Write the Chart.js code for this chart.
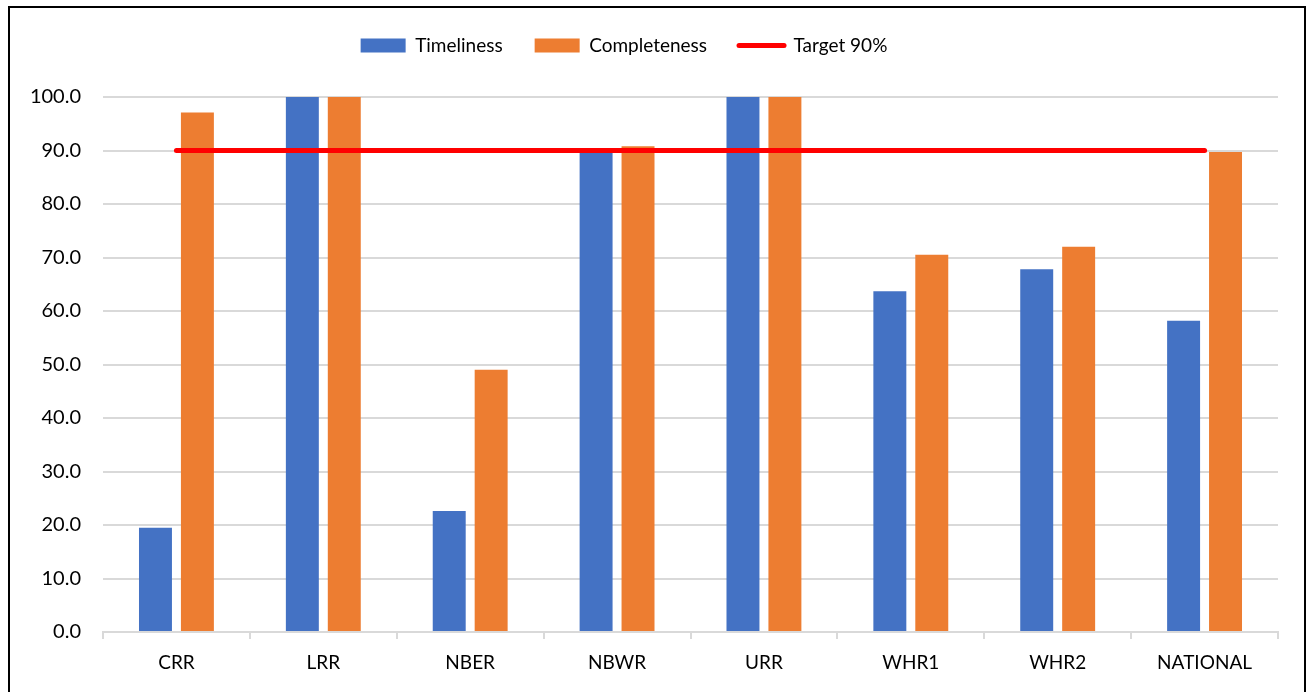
<!DOCTYPE html>
<html>
<head>
<meta charset="utf-8">
<script src="https://cdn.jsdelivr.net/npm/chart.js@4"></script>
<style>
  html, body { margin: 0; padding: 0; background: #fff; overflow: hidden; }
  #frame { position: absolute; left: 8px; top: 6px; width: 1294px; height: 700px; border: 2px solid #000; }
  #wrap { position: absolute; left: 0; top: 0; width: 1307px; height: 692px; }
</style>
</head>
<body>
<div id="frame"></div>
<div id="wrap"><canvas id="chart" width="1307" height="692"></canvas></div>
<script>
const categories = ['CRR', 'LRR', 'NBER', 'NBWR', 'URR', 'WHR1', 'WHR2', 'NATIONAL'];
const timeliness = [19.5, 100, 22.6, 89.8, 100, 63.7, 67.8, 58.2];
const completeness = [97.1, 100, 49.0, 90.8, 100, 70.5, 72.0, 89.7];
const target = [90, 90, 90, 90, 90, 90, 90, 90];

const FONT = 'Lato, "Open Sans", sans-serif';

// legend needs more room under it than chart.js gives, and sits a bit left of centre
const legendSpace = {
  id: 'legendSpace',
  beforeUpdate(chart) {
    const lg = chart.legend;
    if (lg && !lg._patched) {
      const fit = lg.fit;
      lg.fit = function () {
        fit.call(this);
        this.height = 93;
      };
      lg._patched = true;
    }
  },
  afterLayout(chart) {
    const lg = chart.legend;
    if (lg) {
      lg.left -= 15;
      lg.right -= 15;
    }
  }
};

const ctx = document.getElementById('chart').getContext('2d');
new Chart(ctx, {
  type: 'bar',
  data: {
    labels: categories,
    datasets: [
      {
        label: 'Timeliness',
        data: timeliness,
        backgroundColor: '#4472C4',
        borderWidth: 0,
        order: 2
      },
      {
        label: 'Completeness',
        data: completeness,
        backgroundColor: '#ED7D31',
        borderWidth: 0,
        order: 2
      },
      {
        type: 'line',
        label: 'Target 90%',
        data: target,
        borderColor: '#FF0000',
        backgroundColor: '#FF0000',
        borderWidth: 5,
        borderCapStyle: 'round',
        pointRadius: 0,
        order: 1
      }
    ]
  },
  options: {
    responsive: false,
    animation: false,
    layout: { padding: { left: 0, right: 29, top: 4, bottom: 0 } },
    datasets: {
      bar: { categoryPercentage: 0.571, barPercentage: 0.786 }
    },
    plugins: {
      tooltip: { enabled: false },
      legend: {
        position: 'top',
        labels: {
          color: '#000',
          font: { family: FONT, size: 19 },
          usePointStyle: true,
          pointStyleWidth: 45,
          boxHeight: 14,
          padding: 32,
          sort: (a, b) => a.datasetIndex - b.datasetIndex,
          generateLabels: (chart) => {
            const items = Chart.defaults.plugins.legend.labels.generateLabels(chart);
            items.forEach((it) => {
              if (it.datasetIndex === 2) {
                it.pointStyle = 'line';
                it.lineWidth = 5;
                it.lineCap = 'round';
                it.strokeStyle = '#FF0000';
              } else {
                it.pointStyle = 'rect';
                it.lineWidth = 0;
              }
            });
            return items;
          }
        }
      }
    },
    scales: {
      x: {
        offset: true,
        grid: {
          offset: true,
          drawOnChartArea: false,
          drawTicks: true,
          tickLength: 7,
          color: '#d9d9d9',
          lineWidth: 2
        },
        border: { color: '#d9d9d9', width: 2 },
        ticks: { color: '#000', font: { family: FONT, size: 19 }, padding: 12 },
        afterFit: (s) => { s.height = 60; }
      },
      y: {
        min: 0,
        max: 100,
        ticks: {
          stepSize: 10,
          color: '#000',
          font: { family: FONT, size: 20 },
          padding: 22,
          callback: (v) => v.toFixed(1)
        },
        grid: { color: '#d9d9d9', lineWidth: 2, drawTicks: false },
        border: { display: false },
        afterFit: (s) => { s.width = 103; }
      }
    }
  },
  plugins: [legendSpace]
});
</script>
</body>
</html>
